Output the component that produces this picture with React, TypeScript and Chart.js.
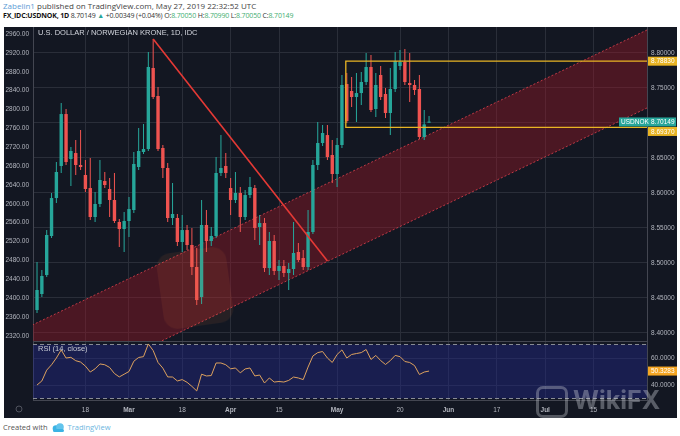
import React, { useEffect, useRef } from "react";
import { Chart, registerables } from "chart.js";
Chart.register(...registerables);

const FONT = "'Liberation Sans', Arial, sans-serif";
const BG = "#131722";
const GRID = "#2a2e39";
const AXIS_LINE = "#434651";
const TEXT = "#b2b5be";
const UP = "#26a69a";
const DOWN = "#ef5350";

const TITLE = "U.S. DOLLAR / NORWEGIAN KRONE, 1D, IDC";

// time axis (bar index -> label)
const dateIdx = [10, 19, 30, 40, 50, 62, 75, 85, 95, 105, 115];
const dateLabels = ["18", "Mar", "18", "Apr", "15", "May", "20", "Jun", "17", "Jul", "15"];

// daily candles Feb 4 2019 .. May 28 2019
const opens = [8.4328, 8.4557, 8.4828, 8.5386, 8.5928, 8.6386, 8.7128, 8.6486, 8.6571, 8.64,
  8.6257, 8.6071, 8.5657, 8.5843, 8.6171, 8.6057, 8.59, 8.5586, 8.5486, 8.56,
  8.5757, 8.6371, 8.6586, 8.6628, 8.7786, 8.7386, 8.6643, 8.6357, 8.5643, 8.5643,
  8.53, 8.5471, 8.5257, 8.4943, 8.4514, 8.5543, 8.5314, 8.5386, 8.6286, 8.6386,
  8.6071, 8.59, 8.6, 8.5657, 8.5971, 8.6071, 8.5514, 8.5571, 8.4928, 8.5314,
  8.4886, 8.4957, 8.4857, 8.4914, 8.5157, 8.5071, 8.4943, 8.5443, 8.64, 8.6714,
  8.6828, 8.6543, 8.6271, 8.6686, 8.7557, 8.7457, 8.7371, 8.7428, 8.7586, 8.78,
  8.72, 8.7686, 8.7414, 8.7143, 8.7486, 8.7814, 8.7871, 8.7571, 8.7543, 8.7486,
  8.68, 8.7005];
const highs = [8.5014, 8.49, 8.5471, 8.6, 8.6443, 8.7286, 8.72, 8.6657, 8.6757, 8.69,
  8.6471, 8.65, 8.6014, 8.6471, 8.63, 8.6214, 8.6286, 8.5628, 8.5728, 8.5943,
  8.6586, 8.6928, 8.6986, 8.8014, 8.82, 8.7514, 8.6686, 8.6428, 8.6143, 8.57,
  8.5686, 8.5543, 8.55, 8.5214, 8.59, 8.5757, 8.5514, 8.6514, 8.6828, 8.6571,
  8.6214, 8.63, 8.6086, 8.6043, 8.6228, 8.6114, 8.5686, 8.5643, 8.5443, 8.54,
  8.5043, 8.5043, 8.5, 8.5586, 8.5286, 8.5186, 8.5757, 8.6471, 8.7014, 8.6971,
  8.6971, 8.6757, 8.6786, 8.7686, 8.7714, 8.7657, 8.7714, 8.7728, 8.8, 8.7971,
  8.7714, 8.7814, 8.75, 8.7786, 8.8014, 8.8043, 8.8057, 8.8, 8.7614, 8.7686,
  8.7186, 8.7099];
const lows = [8.4286, 8.4514, 8.48, 8.5357, 8.5857, 8.6286, 8.64, 8.61, 8.6257, 8.6328,
  8.6014, 8.5614, 8.5586, 8.58, 8.6071, 8.5657, 8.5571, 8.5228, 8.5157, 8.5371,
  8.5714, 8.6328, 8.6557, 8.66, 8.7343, 8.66, 8.6214, 8.5586, 8.5543, 8.5243,
  8.5157, 8.5186, 8.4828, 8.44, 8.4414, 8.5157, 8.5243, 8.5357, 8.6243, 8.6214,
  8.5686, 8.5857, 8.5443, 8.5614, 8.5928, 8.5328, 8.5257, 8.4871, 8.4828, 8.4828,
  8.4757, 8.48, 8.4614, 8.4828, 8.5014, 8.49, 8.49, 8.5414, 8.6328, 8.6671,
  8.6471, 8.6143, 8.6086, 8.6643, 8.7, 8.7228, 8.7014, 8.7257, 8.7543, 8.7157,
  8.7086, 8.7328, 8.7071, 8.6828, 8.7443, 8.7757, 8.7543, 8.73, 8.74, 8.6771,
  8.6757, 8.7005];
const closes = [8.4614, 8.4814, 8.54, 8.5928, 8.63, 8.7128, 8.6443, 8.66, 8.64, 8.6371,
  8.6057, 8.5657, 8.5843, 8.6186, 8.6114, 8.59, 8.56, 8.5486, 8.56, 8.5771,
  8.6414, 8.66, 8.6628, 8.78, 8.7371, 8.6628, 8.6357, 8.5643, 8.57, 8.53,
  8.5471, 8.5257, 8.4943, 8.4471, 8.5543, 8.5314, 8.5386, 8.6286, 8.6357, 8.6286,
  8.59, 8.6, 8.5657, 8.5971, 8.6086, 8.55, 8.5571, 8.4928, 8.5314, 8.4886,
  8.4957, 8.4857, 8.4914, 8.5143, 8.5043, 8.4943, 8.5443, 8.64, 8.6714, 8.6857,
  8.6514, 8.6271, 8.6686, 8.7543, 8.7028, 8.7371, 8.7428, 8.7586, 8.78, 8.7186,
  8.7543, 8.7371, 8.7143, 8.7486, 8.7886, 8.7871, 8.7586, 8.7543, 8.7471, 8.68,
  8.698, 8.70149];

// RSI(14, close)
const rsiValues = [40, 43, 51, 55, 60, 66, 60, 60.5, 58, 57,
  54, 49.6, 52, 55.6, 55, 53, 48.5, 46, 48, 50,
  57.6, 60.4, 61, 70.4, 65.5, 56.7, 52.5, 46, 45.9, 43,
  44, 42, 39, 35.6, 48, 46.7, 47, 56.3, 56.3, 55,
  52, 52.6, 49, 51.9, 52.6, 46.7, 47.4, 41.5, 45.2, 42.2,
  42.6, 42.2, 43.4, 45.9, 45.2, 44, 53.3, 61.5, 64, 64.8,
  60, 56.7, 62.6, 66, 60, 62.6, 63.3, 64, 66.3, 58.9,
  61.9, 58.1, 55.2, 58.1, 61.9, 61, 57.4, 56.7, 54.4, 47.8,
  49.6, 50.3283];

const priceTicks = [8.4, 8.45, 8.5, 8.55, 8.6, 8.65, 8.7, 8.75, 8.8];
const leftTicks = [2320, 2360, 2400, 2440, 2480, 2520, 2560, 2600, 2640, 2680, 2720, 2760, 2800, 2840, 2880, 2920, 2960];
const rsiTicks = [40, 60];
const rsiBands = [30, 70];

const resistance = 8.7883;
const support = 8.6937;
const boxStart = 63.8;
const trendLine = [{ x: 24, y: 8.82 }, { x: 60, y: 8.5029 }];
const channelUpper = [{ x: -1, y: 8.4113 }, { x: 127, y: 8.8361 }];
const channelLower = [{ x: -1, y: 8.2999 }, { x: 127, y: 8.7247 }];
const lastPrice = 8.70149;
const lastRsi = 50.3283;

const X_MIN = -0.83;
const X_MAX = 126.03;
const P_MIN = 8.38857;
const P_MAX = 8.83714;
const L_MIN = 2309.2;
const L_MAX = 2974.8;
const R_MIN = 28.9;
const R_MAX = 71.85;

function noPad(s: any) {
  s.paddingTop = 0; s.paddingBottom = 0; s.paddingLeft = 0; s.paddingRight = 0;
}
function setTicks(vals: number[]) {
  return (s: any) => { s.ticks = vals.map((v) => ({ value: v })); };
}
function tag(ctx: CanvasRenderingContext2D, x: number, y: number, w: number, bg: string, text: string) {
  ctx.fillStyle = bg;
  ctx.fillRect(x, y - 4.5, w, 9);
  ctx.fillStyle = "#ffffff";
  ctx.textAlign = "left";
  ctx.textBaseline = "middle";
  ctx.fillText(text, x + 3, y + 0.5);
}

const mainOverlay = {
  id: "mainOverlay",
  afterDraw(chart: any) {
    const { ctx, chartArea, scales } = chart;
    const y = scales.y;
    ctx.save();
    ctx.font = `7.5px ${FONT}`;
    ctx.fillStyle = "#d1d4dc";
    ctx.textAlign = "left";
    ctx.textBaseline = "middle";
    ctx.fillText(TITLE, chartArea.left + 5, 5.5);
    ctx.font = `6.5px ${FONT}`;
    const yr = y.getPixelForValue(resistance);
    tag(ctx, chartArea.right + 1, yr, 29, "#e8b424", resistance.toFixed(5));
    const yl = y.getPixelForValue(lastPrice);
    ctx.fillStyle = UP;
    ctx.fillRect(chartArea.right - 28, yl - 4.5, 57, 9);
    ctx.fillStyle = "rgba(255,255,255,0.5)";
    ctx.fillRect(chartArea.right + 0.5, yl - 0.5, 1, 1);
    ctx.fillStyle = "#ffffff";
    ctx.textBaseline = "middle";
    ctx.fillText("USDNOK", chartArea.right - 26, yl + 0.5);
    ctx.fillText(lastPrice.toFixed(5), chartArea.right + 4, yl + 0.5);
    const ys = Math.max(y.getPixelForValue(support), yl + 9.5);
    tag(ctx, chartArea.right + 1, ys, 29, "#e8b424", support.toFixed(5));
    ctx.restore();
  },
};

const rsiOverlay = {
  id: "rsiOverlay",
  afterDraw(chart: any) {
    const { ctx, chartArea, scales } = chart;
    ctx.save();
    ctx.font = `7.5px ${FONT}`;
    ctx.fillStyle = "#c8cad2";
    ctx.textAlign = "left";
    ctx.textBaseline = "middle";
    ctx.fillText("RSI (14, close)", chartArea.left + 5, 7);
    ctx.font = `6.5px ${FONT}`;
    tag(ctx, chartArea.right + 1, scales.y.getPixelForValue(lastRsi), 29, "#f5a623", lastRsi.toFixed(4));
    ctx.strokeStyle = "#50535e";
    ctx.lineWidth = 1;
    ctx.beginPath();
    ctx.arc(15, chartArea.bottom + 9, 3, 0, Math.PI * 2);
    ctx.stroke();
    ctx.restore();
  },
};

function mainConfig(): any {
  const idx = opens.map((_, i) => i);
  const colors = idx.map((i) => (closes[i] >= opens[i] ? UP : DOWN));
  const bodies = idx.map((i) => ({ x: i, y: [opens[i], closes[i]] }));
  const wicks = idx.map((i) => ({ x: i, y: [lows[i], highs[i]] }));
  const box = [
    { x: X_MAX, y: resistance },
    { x: boxStart, y: resistance },
    { x: boxStart, y: support },
    { x: X_MAX, y: support },
  ];
  return {
    type: "line",
    data: {
      datasets: [
        { type: "line", data: trendLine, borderColor: "#e53935", borderWidth: 1.6, pointRadius: 0, order: 0 },
        { type: "line", data: box, borderColor: "#e8b424", borderWidth: 1.3, pointRadius: 0, order: 1 },
        { type: "bar", data: bodies, backgroundColor: colors, grouped: false, barPercentage: 0.7, categoryPercentage: 1, minBarLength: 1, borderWidth: 0, inflateAmount: 0, order: 2 },
        { type: "bar", data: wicks, backgroundColor: colors, grouped: false, barPercentage: 0.21, categoryPercentage: 1, borderWidth: 0, inflateAmount: 0, order: 3 },
        { type: "line", data: channelUpper, borderColor: "rgba(214,62,74,0.85)", borderDash: [2, 2], borderWidth: 1, pointRadius: 0, fill: false, order: 4 },
        { type: "line", data: channelLower, borderColor: "rgba(214,62,74,0.85)", borderDash: [2, 2], borderWidth: 1, pointRadius: 0, fill: "-1", backgroundColor: "rgba(160,22,38,0.40)", order: 5 },
      ],
    },
    options: {
      animation: false,
      responsive: false,
      events: [],
      layout: { padding: 0 },
      plugins: { legend: { display: false }, tooltip: { enabled: false } },
      scales: {
        x: {
          type: "linear", min: X_MIN, max: X_MAX, offset: false,
          afterBuildTicks: setTicks(dateIdx),
          ticks: { display: false },
          grid: { color: GRID, drawTicks: false, offset: false },
          border: { display: true, color: AXIS_LINE },
          afterFit: (s: any) => { s.height = 1; noPad(s); },
        },
        y: {
          position: "right", min: P_MIN, max: P_MAX,
          afterBuildTicks: setTicks(priceTicks),
          ticks: { color: TEXT, font: { family: FONT, size: 6.5 }, padding: 4, autoSkip: false, callback: (v: any) => Number(v).toFixed(5) },
          grid: { color: GRID, drawTicks: false },
          border: { color: AXIS_LINE },
          afterFit: (s: any) => { s.width = 30; noPad(s); },
        },
        yl: {
          position: "left", min: L_MIN, max: L_MAX,
          afterBuildTicks: setTicks(leftTicks),
          ticks: { color: TEXT, font: { family: FONT, size: 6.5 }, padding: 4, autoSkip: false, callback: (v: any) => Number(v).toFixed(2) },
          grid: { display: false, drawTicks: false },
          border: { color: AXIS_LINE },
          afterFit: (s: any) => { s.width = 29; noPad(s); },
        },
      },
    },
    plugins: [mainOverlay],
  };
}

function rsiConfig(): any {
  const pts = rsiValues.map((v, i) => ({ x: i, y: v }));
  return {
    type: "line",
    data: {
      datasets: [
        { data: pts, borderColor: "#dda15e", borderWidth: 1, pointRadius: 0, order: 0 },
        { data: [{ x: X_MIN, y: rsiBands[1] }, { x: X_MAX, y: rsiBands[1] }], borderColor: "#8a8d96", borderDash: [4, 3], borderWidth: 1, pointRadius: 0, fill: false, order: 1 },
        { data: [{ x: X_MIN, y: rsiBands[0] }, { x: X_MAX, y: rsiBands[0] }], borderColor: "#8a8d96", borderDash: [4, 3], borderWidth: 1, pointRadius: 0, fill: "-1", backgroundColor: "rgba(33,40,140,0.42)", order: 2 },
      ],
    },
    options: {
      animation: false,
      responsive: false,
      events: [],
      layout: { padding: 0 },
      plugins: { legend: { display: false }, tooltip: { enabled: false } },
      scales: {
        x: {
          type: "linear", min: X_MIN, max: X_MAX, offset: false,
          afterBuildTicks: setTicks(dateIdx),
          ticks: {
            color: TEXT, padding: 6, autoSkip: false, maxRotation: 0,
            font: (c: any) => {
              const lab = dateLabels[dateIdx.indexOf(c.tick ? c.tick.value : -1)] || "";
              return { family: FONT, size: 6.5, weight: isNaN(Number(lab)) ? "bold" : "normal" };
            },
            callback: (v: any) => dateLabels[dateIdx.indexOf(Number(v))] || "",
          },
          grid: { color: GRID, drawTicks: false, offset: false },
          border: { display: true, color: AXIS_LINE },
          afterFit: (s: any) => { s.height = 18; noPad(s); },
        },
        y: {
          position: "right", min: R_MIN, max: R_MAX,
          afterBuildTicks: setTicks(rsiTicks),
          ticks: { color: TEXT, font: { family: FONT, size: 6.5 }, padding: 4, autoSkip: false, callback: (v: any) => Number(v).toFixed(4) },
          grid: { color: GRID, drawTicks: false },
          border: { color: AXIS_LINE },
          afterFit: (s: any) => { s.width = 30; noPad(s); },
        },
        yl: {
          position: "left", min: R_MIN, max: R_MAX,
          ticks: { display: false },
          grid: { display: false, drawTicks: false },
          border: { color: AXIS_LINE },
          afterFit: (s: any) => { s.width = 29; noPad(s); },
        },
      },
    },
    plugins: [rsiOverlay],
  };
}

export default function App() {
  const mainRef = useRef<HTMLCanvasElement>(null);
  const rsiRef = useRef<HTMLCanvasElement>(null);
  useEffect(() => {
    const c1 = new Chart(mainRef.current as HTMLCanvasElement, mainConfig());
    const c2 = new Chart(rsiRef.current as HTMLCanvasElement, rsiConfig());
    return () => { c1.destroy(); c2.destroy(); };
  }, []);
  const green = { color: "#3fae72" };
  const hdr = "'Open Sans', 'Noto Sans', sans-serif";
  return (
    <div style={{ position: "absolute", left: 0, top: 0, width: 680, height: 436, background: "#ffffff", overflow: "hidden", fontFamily: hdr }}>
      <div style={{ position: "absolute", left: 3, top: 1, fontSize: 8, lineHeight: "10px", color: "#444", whiteSpace: "nowrap" }}>
        <span style={{ color: "#5b9bd5" }}>Zabelin1</span> published on TradingView.com, May 27, 2019 22:32:52 UTC
      </div>
      <div style={{ position: "absolute", left: 3, top: 11, fontSize: 7, lineHeight: "10px", color: "#333", whiteSpace: "nowrap", letterSpacing: "-0.15px" }}>
        <b style={{ color: "#111" }}>FX_IDC:USDNOK, 1D</b> 8.70149 <span style={{ color: "#26a69a" }}>▲</span> +0.00349 (+0.04%) O:<span style={green}>8.70050</span> H:<span style={green}>8.70990</span> L:<span style={green}>8.70050</span> C:<span style={green}>8.70149</span>
      </div>
      <canvas ref={mainRef} width={673} height={315} style={{ position: "absolute", left: 4, top: 27, width: 673, height: 315, background: BG }} />
      <canvas ref={rsiRef} width={673} height={76} style={{ position: "absolute", left: 4, top: 342, width: 673, height: 76, background: BG }} />
      <div style={{ position: "absolute", left: 160, top: 250, width: 70, height: 76, borderRadius: 14, background: "rgba(230,120,50,0.09)", transform: "rotate(-8deg)", pointerEvents: "none" }} />
      <div style={{ position: "absolute", left: 536, top: 386, width: 26, height: 26, borderRadius: 7, border: "3px solid rgba(205,208,216,0.35)", pointerEvents: "none" }} />
      <div style={{ position: "absolute", left: 573, top: 386, fontSize: 25, lineHeight: "28px", fontWeight: 700, color: "rgba(205,208,216,0.38)", fontFamily: "Inter, 'Open Sans', sans-serif", pointerEvents: "none" }}>WikiFX</div>
      <div style={{ position: "absolute", left: 3, top: 422, fontSize: 7.5, lineHeight: "10px", color: "#555", whiteSpace: "nowrap", display: "flex", alignItems: "center" }}>
        <span>Created with</span>
        <svg width="15" height="9" viewBox="0 0 15 9" style={{ margin: "0 2px 0 3px" }}>
          <circle cx="5" cy="5.5" r="3.3" fill="#3bb3e4" />
          <circle cx="9" cy="4" r="3.8" fill="#62c4ec" />
          <rect x="2" y="6" width="11" height="3" rx="1.5" fill="#3bb3e4" />
        </svg>
        <span style={{ color: "#6cb6e0" }}>TradingView</span>
      </div>
    </div>
  );
}
